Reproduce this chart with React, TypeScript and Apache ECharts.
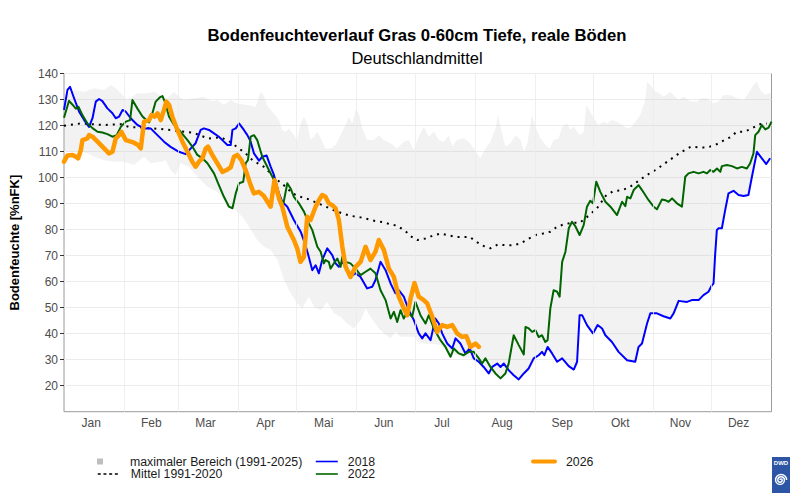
import React, { useEffect, useRef } from "react";
import * as echarts from "echarts";

const monthNames = ["Jan", "Feb", "Mar", "Apr", "Mai", "Jun", "Jul", "Aug", "Sep", "Okt", "Nov", "Dez"];
const monthLabelDays = [14, 45, 73, 104, 134, 165, 195, 226, 257, 287, 318, 348];
const monthStartDays = [31, 59, 90, 120, 151, 181, 212, 243, 273, 304, 334];
const yTickValues = [20, 30, 40, 50, 60, 70, 80, 90, 100, 110, 120, 130, 140];

const bandUpper: number[][] = [[0,131.7],[5.2,133.7],[10.4,133],[15.5,134.3],[20.7,133.7],[24.1,135.6],[26.7,134.3],[30.2,131.7],[32.7,129.8],[37.9,132.4],[43,132.4],[46.4,133],[53.4,130.5],[56.8,133],[59.3,131.1],[61.9,129.8],[67.1,130.5],[72.2,131.1],[76.5,129.2],[79.1,129.8],[82.5,127.9],[86,129.8],[89.4,128.5],[94.6,127.9],[98.9,127.2],[101.4,133],[103.1,131.5],[104.9,127.5],[106.6,126],[108.3,124.5],[110.9,122.1],[112.6,118.3],[114.3,117.6],[116,118.9],[118.6,116.3],[120.3,114.4],[122,120.8],[123.8,123.4],[125.5,120.8],[127.2,114.4],[128.9,115.7],[130.7,117.6],[132.4,115.1],[134.9,111.2],[137.5,111.2],[140.1,112.5],[145.3,120.2],[146.9,123.4],[148.7,120.8],[150.4,126],[152.1,124.7],[153.9,118.9],[156.4,114.4],[159.8,114.4],[162.4,116.3],[165,114.4],[168.5,113.2],[171.9,111.2],[175.3,113.8],[177.9,114.4],[180.5,110.6],[183,115.7],[185.6,119.5],[188.2,115.7],[190.8,117.6],[193.4,114.4],[195.9,113.8],[198.5,116.3],[200.3,111.9],[202.8,114.4],[206.2,115.1],[208.8,113.8],[211.4,111.2],[214.8,107.4],[217.4,111.2],[220,113.8],[222.6,118.9],[223.8,124],[225.2,119.5],[227.7,111.9],[230.3,113.2],[232.9,116.3],[235.6,114.4],[237.3,109.9],[239,113],[241.5,124],[243.2,119.5],[245.8,115.1],[248.3,112.5],[250.6,111.2],[252.6,114.4],[255.2,115.1],[257,119.5],[259.5,120.8],[261.2,118.3],[263,119.5],[264.7,117.6],[266.4,116.3],[268.1,117.6],[269.5,127.9],[271.5,125.3],[273.3,122.8],[275.8,120.2],[278.4,121.5],[280.2,120.8],[282.7,122.1],[285.3,121.5],[287.9,120.2],[290.5,118.9],[293,119.5],[294.7,121.5],[297.3,124],[299.9,129.8],[300.8,136.8],[302.5,135.6],[304.2,133.7],[306.8,132.4],[309.3,131.1],[312.8,133],[314.5,131.7],[317.1,129.8],[319.6,131.1],[323.1,129.2],[326.5,129.2],[329.1,130.5],[331.7,130.5],[335.1,128.5],[337.7,129.2],[340.3,131.7],[343.7,131.7],[347.2,130.5],[350.6,129.8],[353.1,132.4],[355.7,135.6],[357.5,136.8],[359.2,133.7],[361.8,131.7],[363.5,132.4],[365,132.4]];

const bandLower: number[][] = [[0,110],[8.7,109.9],[12.1,109.3],[15.5,108],[20.7,106.7],[25.8,106.1],[31,106.1],[36.1,104.8],[41.3,108],[44.7,105.5],[49.9,106.1],[52.5,106.7],[55,102.9],[57.6,101],[60.2,105.5],[64.5,104.2],[68.8,100.3],[74,96.5],[79.1,94.5],[84.3,90.1],[88.6,87.5],[92,84.9],[95.4,81.1],[99.7,76],[103.1,73.4],[106.6,72.2],[110.1,68.3],[113.5,60.6],[116.9,55.5],[120.4,51.6],[122.9,49.7],[126.4,54.2],[128.9,50.3],[132.4,49],[135.8,52.2],[139.2,47.8],[142.7,46.5],[146.1,43.9],[149.5,42],[153,45.2],[155.6,49.7],[158.1,46.5],[162.4,42],[165,40.1],[168.5,38.2],[171,40.7],[173.6,38.8],[180.5,38.8],[183,36.8],[185.6,36.2],[189.1,36],[191.6,36],[194.2,35.5],[196.8,34],[199.4,31],[201.1,32],[203.7,31.5],[206.2,30.5],[209.3,30.5],[211.4,29.5],[214,28.5],[216.5,26.5],[219.1,24.5],[222.6,24.2],[225.2,22.5],[227.7,24],[229.4,25],[232,23.5],[234.6,22.2],[237.2,24.5],[239.7,25.5],[242.3,29],[244.9,31],[246.6,32.5],[248.3,31.5],[249.5,34],[251.8,32.2],[254.4,29],[257,30.3],[260.4,27.3],[263,26],[264.7,29],[266,47.1],[267.3,47.1],[269.8,43.3],[272.9,40.1],[275.3,43.3],[277.6,42],[279.3,39.4],[282.7,36.8],[286.1,33],[290.5,29.8],[294.7,29.2],[296.4,34.9],[298.2,36.2],[300.8,43.9],[302.5,47.8],[305.9,47.8],[309.3,46.7],[312.8,45.8],[314.5,47.8],[317.1,52.6],[321.4,52.2],[323.9,52.9],[327.4,52.9],[329.9,54.8],[332.5,56.1],[334.3,58.7],[335.1,59.3],[335.9,70],[336.8,79.8],[337.7,80.5],[339.4,80.5],[341.1,87.5],[342.8,93.9],[345.4,94.9],[348,93.3],[350.6,92.9],[353.1,93.3],[354.9,100.3],[357.5,109.9],[360,107.4],[362.3,105.2],[365,107.4]];

const mean1991_2020: number[][] = [[0,119.9],[8.7,120.8],[20.5,120.2],[29.3,120.5],[33.4,119.5],[45.6,118.9],[49.6,118.7],[57.6,118],[66.8,117.2],[74.5,115],[80.8,115.5],[86,113.6],[89.7,111.5],[93.4,109.5],[97.2,106.7],[103,104.2],[110.2,99],[114.3,96.5],[117.8,93.9],[122,92.6],[126.3,91.6],[133,89.5],[139,87.5],[144.4,86],[148.7,85.2],[153,84.7],[157.3,83.9],[160.7,83.3],[165,82.8],[168.5,82],[171.9,81.5],[176.2,79.4],[178.8,77.5],[182.2,76],[186.5,76.6],[190,77.6],[194.2,78.5],[197.7,77.9],[202,77.2],[205.4,77.2],[209.3,77.2],[212.8,75.3],[216.5,73.7],[220,72.8],[223.8,74.3],[227.7,74],[232,74],[235.5,74.7],[239.2,76.3],[243.2,77.9],[247.2,78.5],[250.9,79.2],[254.4,81.1],[258.3,82.1],[262,82.6],[266,82.6],[270.6,85.3],[275,88.2],[279.8,93.3],[283.6,94.8],[287.9,95.2],[291.3,96.1],[294.7,97.8],[298.2,99.7],[302.1,101.6],[305.6,103.1],[309.3,105.1],[312.4,106.7],[316.2,108.7],[319.6,110.3],[323.5,111.9],[327.9,111.6],[331.7,111.5],[336,112.5],[339.7,114],[343.7,115.5],[347.1,117.6],[350.9,117.6],[354.9,118.9],[358.7,120.5],[362.6,120.8]];

const year2018: number[][] = [[0,126],[1.8,133.7],[3.1,134.9],[5.2,130.5],[7.8,125.3],[10.4,122.1],[12.9,119.5],[14.7,122.8],[16.4,129.2],[18.1,130.2],[19.8,129.4],[22.4,126.6],[25,124.7],[26.7,122.8],[28.4,123.4],[30.2,126],[31.9,125.3],[34.4,122.8],[37.9,120.2],[41.3,118.9],[44.7,118.9],[48.2,116.3],[51.6,113.8],[55,111.8],[59.3,109.9],[62.8,109],[65.4,111.2],[67.9,113.2],[70.5,118.3],[72.2,118.9],[74.8,118.3],[77.4,117],[79.9,115.7],[82.5,113.8],[84.3,112.5],[86,112.5],[86.9,118.3],[88.6,118.9],[90.3,120.8],[92.8,118.3],[94.6,116.3],[96.3,113.8],[98,109.3],[100.6,106.5],[102.3,108],[104.5,108.5],[106.6,104.2],[108.3,101],[110.9,93.9],[112.6,90.7],[115.2,88.8],[118.6,83.7],[122.1,79.2],[124.6,74],[126.3,69.5],[128.1,64.4],[129.8,66.3],[131.5,63.2],[133.2,68.3],[135.8,72.8],[138.4,70.2],[140.1,67],[141.8,65.7],[143.6,67.6],[146.1,64.4],[147.8,61.8],[150.4,63.2],[153,61.8],[156.4,57.4],[159,58],[160.7,60.6],[163.3,67.6],[165.9,64.4],[168.5,59.3],[171,55.5],[172.7,56.7],[175.3,54.2],[177.9,49],[180.5,45.2],[183,40.1],[184.8,38.2],[186.5,40.1],[189.1,37.5],[191.6,45.8],[193.4,43.9],[195.1,40.1],[197.7,36.2],[200.3,34.3],[202,38.2],[204.5,36.2],[207.1,32.4],[209.3,34.3],[211.4,30.5],[214,29.2],[216.5,27.2],[219.1,24.7],[220.9,27.2],[223.5,28.5],[225.2,27.2],[226.9,28.5],[229.4,26],[232,24],[234.6,22.4],[237.2,24.7],[239.7,26.6],[242.3,30.5],[244.9,31.7],[246.6,33],[247.8,31.7],[249.5,34.9],[251.8,32.4],[254.4,29.2],[257,30.5],[260.4,27.5],[263,26.2],[264.7,29.2],[266,47.1],[267.3,47.1],[269.8,43.3],[272.9,40.1],[275.3,43.3],[277.6,42],[279.3,39.4],[282.7,36.8],[286.1,33],[290.5,29.8],[294.7,29.2],[296.4,34.9],[298.2,36.2],[300.8,43.9],[302.5,47.8],[305.9,47.8],[309.3,46.7],[312.8,45.8],[314.5,47.8],[317.1,52.6],[321.4,52.2],[323.9,52.9],[327.4,52.9],[329.9,54.8],[332.5,56.1],[334.3,58.7],[335.1,59.3],[335.9,70],[336.8,79.8],[337.7,80.5],[339.4,80.5],[341.1,87.5],[342.8,93.9],[345.4,94.9],[348,93.3],[350.6,92.9],[353.1,93.3],[354.9,100.3],[357.5,109.9],[360,107.4],[362.3,105.2],[364.3,107.4]];

const year2022: number[][] = [[0,123],[2.6,129.5],[4.4,128],[6.1,126.5],[7.5,127.2],[9.5,124],[12.1,120.8],[14.7,119],[17.3,117.6],[19.8,117.3],[22.4,116.7],[25,115.7],[27.2,116.3],[29.3,119.5],[31.9,121.5],[34.1,122.1],[35.3,129.8],[37.9,126.5],[40.5,123.5],[42.2,122.3],[43.9,121.2],[45.6,124.7],[47.3,129.2],[49.4,130.8],[50.8,131.3],[52,129.2],[54.2,123.4],[56.8,120.2],[60.2,117.6],[63.7,114.4],[66.2,111.9],[68.8,108.7],[71.4,107.4],[74,105.5],[77.4,101.6],[79.9,97.1],[82.5,92.6],[85.1,88.8],[86.9,88.2],[88.6,93.9],[90.3,97.8],[92.5,98.4],[93.7,105.5],[94.9,106.7],[96.3,115.7],[98,116.3],[99.7,114.4],[102.3,108],[105.7,102.9],[109.2,97.8],[111.8,91.3],[113.2,90.1],[115.2,97.8],[116.9,95.8],[118.6,92.6],[121.2,90.1],[123.8,86.9],[126.3,82.4],[128.1,79.8],[130.7,73.4],[132.4,71.5],[134.1,67],[134.9,68.3],[136.6,67.6],[137.5,65],[139.2,67],[141,68.9],[142.7,65.7],[143.6,69.5],[145.3,67.6],[147.8,67],[150.4,65],[153,62.5],[155.6,63.8],[158.1,65],[160.7,63.2],[163.3,56.7],[165.9,52.9],[168.5,45.8],[170.2,48.4],[171.9,44.5],[173.6,49],[175.3,45.8],[177.1,48.4],[179.6,46.5],[181.3,52.2],[183.9,47.1],[186.5,43.9],[188.2,47.1],[190.8,42],[194.2,37.5],[196.8,34.9],[199.4,31.1],[201.1,34.3],[203.7,32.4],[206.2,31.7],[208.8,33],[211.4,33],[214,30.5],[215.7,28.5],[217.4,30.5],[220,27.2],[222.6,24.7],[225.2,22.8],[227.7,24.7],[229.4,28.5],[232,39.4],[234.6,35.6],[237.2,32],[238.1,42.6],[239.8,42],[241.5,40.7],[243.2,41.3],[244.9,38.7],[246.6,39.4],[248.3,36.8],[249.5,37.5],[250.9,49.7],[252.6,56.7],[254.4,56.1],[255.7,54.2],[257,67.6],[258.7,71.5],[260.4,80.5],[262.1,83],[263.8,81.3],[266,77.9],[268.1,81.7],[269.8,88.8],[271.5,91.1],[272.9,90.1],[274.6,98.4],[276.7,94.5],[279.3,90.7],[281.9,88.8],[285.3,85.6],[287.9,90.7],[289.6,89],[290.5,92.6],[292.2,92],[293.9,95.2],[296.4,97.1],[298.2,95.2],[301.6,91.3],[304.2,88.8],[305.9,87.8],[308.5,91.6],[310.2,91.3],[311.9,90.7],[313.7,92],[316.2,90.1],[318.8,88.8],[320.5,100.3],[322.2,101.6],[324.8,102.2],[327.4,101.6],[329.9,102.2],[331.7,101.6],[333.4,102.9],[335.1,102.2],[336.9,103.5],[338.6,102.2],[339.4,104.4],[342,104.8],[344.6,104.4],[347.2,103.5],[349.7,104.1],[352.3,103.5],[354,105.5],[355.7,109.3],[356.6,116.3],[358.3,117.6],[360,120.2],[361.8,118.5],[363.5,119.2],[365,121.5]];

const year2026: number[][] = [[0,106.1],[1.8,108.5],[4.4,108.7],[6.1,108],[7.3,107.4],[8.7,110.6],[9.5,114.4],[12.1,115.1],[12.9,116.3],[14.7,115.7],[17.3,113.8],[20.7,111.2],[23.2,109.3],[25,109.9],[26.7,115.1],[28.4,116.3],[29.6,117.6],[31.9,114.4],[34.1,113.9],[36.1,113.4],[38.2,112.5],[39.6,111.2],[41.3,121.5],[43.9,122.1],[45.1,124],[46.8,123.4],[48.2,124.7],[49.9,122.1],[51.6,126],[52.8,129.2],[54.2,127.9],[55.9,123.4],[58.5,118.3],[61.1,113.8],[63.7,109.9],[66.2,106.1],[67.9,104.2],[69.6,106.1],[71.4,107.4],[73.1,111.2],[74.3,111.9],[76.5,108.7],[79.1,105.5],[81.7,102.2],[83.9,102.9],[86,103.9],[87.7,108],[89.4,108.7],[91.5,106.7],[93.7,102.9],[96.3,97.1],[98,93.9],[100.6,94.5],[103,93],[106.6,88.8],[108.6,99],[110.9,92],[112.6,88.8],[115.2,81.1],[118.6,76],[120.3,72.8],[122,67.6],[123.8,69.5],[124.7,77.9],[125.5,84.9],[127.2,83.7],[129.8,88.8],[131.5,91.3],[133.2,93.3],[134.9,92.6],[136.6,90.1],[138.4,89.4],[140.1,88.2],[141.8,83.7],[143.6,73.4],[145.3,65.7],[147.8,61.8],[150.4,65.7],[153,67.6],[155.6,73.4],[158.1,68.3],[160.7,71.5],[162.4,76],[165,72.2],[167.6,65],[170.2,61.8],[172.7,54.2],[175.3,49.7],[177.1,47.1],[178.8,53.5],[180.8,59.5],[183,54.2],[185.6,52.9],[187.4,51.6],[190,46.5],[192.5,40.7],[195.1,43.3],[197.7,42.6],[200.3,43.3],[202.8,40.1],[205.4,38.8],[207.6,39],[209.7,34.9],[212.3,36.2],[214,34.9]];

const FONT = "'Liberation Sans', Arial, sans-serif";
const BAND_NAME = "maximaler Bereich (1991-2025)";
const MEAN_NAME = "Mittel 1991-2020";

let shapeRegistered = false;
function registerLogo() {
  if (shapeRegistered) return;
  echarts.graphic.registerShape(
    "dwdSpiral",
    echarts.graphic.extendPath(
      "M0,0 A1,1 0 0 1 2,0 A2,2 0 0 1 -2,0 A3,3 0 0 1 4,0 A4,4 0 0 1 -4,0 A5,5 0 0 1 6,0",
      {}
    ) as any
  );
  shapeRegistered = true;
}

export default function App() {
  const ref = useRef<HTMLDivElement>(null);
  useEffect(() => {
    if (!ref.current) return;
    registerLogo();
    const chart = echarts.init(ref.current, undefined, { renderer: "svg" });
    const legendText = { fontSize: 12.3, color: "#1a1a1a", fontFamily: FONT };
    const legendBase = {
      orient: "horizontal",
      itemWidth: 22,
      itemHeight: 14,
      padding: 0,
      itemGap: 0,
      selectedMode: false,
      itemStyle: { opacity: 0 },
    };
    const option: any = {
      animation: false,
      textStyle: { fontFamily: FONT },
      grid: {
        left: 63.2,
        right: 28.5,
        top: 73.5,
        bottom: 88.3,
        show: true,
        borderColor: "#9a9a9a",
        borderWidth: 1,
        backgroundColor: "transparent",
      },
      xAxis: {
        type: "value",
        min: 0,
        max: 365,
        axisLine: { show: false },
        axisTick: { show: false },
        splitLine: { show: false },
        axisLabel: {
          customValues: monthLabelDays,
          formatter: (v: number) => {
            const i = monthLabelDays.indexOf(v);
            return i >= 0 ? monthNames[i] : "";
          },
          fontSize: 12,
          color: "#4d4d4d",
          margin: 5,
          fontFamily: FONT,
        },
      },
      yAxis: {
        type: "value",
        min: 10,
        max: 140,
        interval: 10,
        name: "Bodenfeuchte [%nFK]",
        nameLocation: "middle",
        nameGap: 43,
        nameTextStyle: { fontSize: 13, fontWeight: "bold", color: "#000", fontFamily: FONT },
        axisLine: { show: false },
        axisTick: { show: true, length: 4, customValues: yTickValues, lineStyle: { color: "#333" } },
        axisLabel: {
          customValues: yTickValues,
          fontSize: 12,
          color: "#4d4d4d",
          margin: 6,
          fontFamily: FONT,
        },
        splitLine: { show: true, lineStyle: { color: "#ebebeb", width: 1.2 } },
      },
      legend: [
        {
          ...legendBase,
          left: 97,
          top: 455.5,
          itemWidth: 6,
          itemHeight: 6,
          itemStyle: {},
          data: [{ name: BAND_NAME, icon: "rect", itemStyle: { color: "#bebebe" } }],
          textStyle: { ...legendText, padding: [0, 0, 0, 22] },
        },
        {
          ...legendBase,
          left: 97,
          top: 468,
          itemWidth: 21,
          data: [{ name: MEAN_NAME, lineStyle: { type: [3, 2.7], width: 1.5 } }],
          textStyle: { ...legendText, padding: [0, 0, 0, 7] },
        },
        {
          ...legendBase,
          left: 315,
          top: 455.5,
          data: [{ name: "2018", lineStyle: { width: 1.6 } }],
          textStyle: { ...legendText, padding: [0, 0, 0, 5] },
        },
        {
          ...legendBase,
          left: 315,
          top: 468,
          data: [{ name: "2022", lineStyle: { width: 1.6 } }],
          textStyle: { ...legendText, padding: [0, 0, 0, 5] },
        },
        {
          ...legendBase,
          left: 531,
          top: 455.5,
          data: [{ name: "2026", lineStyle: { width: 4 } }],
          textStyle: { ...legendText, padding: [0, 0, 0, 6] },
        },
      ],
      graphic: [
        {
          type: "text",
          x: 417,
          y: 35,
          style: {
            text: "Bodenfeuchteverlauf Gras 0-60cm Tiefe, reale Böden",
            fill: "#000",
            font: `bold 16.7px ${FONT}`,
            align: "center",
            verticalAlign: "middle",
            textAlign: "center",
            textVerticalAlign: "middle",
          },
        },
        {
          type: "text",
          x: 417,
          y: 58,
          style: {
            text: "Deutschlandmittel",
            fill: "#000",
            font: `16.5px ${FONT}`,
            align: "center",
            verticalAlign: "middle",
            textAlign: "center",
            textVerticalAlign: "middle",
          },
        },
        {
          type: "rect",
          shape: { x: 772, y: 457, width: 18, height: 36 },
          style: { fill: "#2c55a5" },
        },
        {
          type: "text",
          x: 781,
          y: 463,
          style: {
            text: "DWD",
            fill: "#fff",
            font: `bold 6px ${FONT}`,
            align: "center",
            verticalAlign: "middle",
            textAlign: "center",
            textVerticalAlign: "middle",
          },
        },
        {
          type: "dwdSpiral",
          x: 780,
          y: 480,
          scaleX: 1.1,
          scaleY: 1.1,
          style: { stroke: "#fff", fill: null, lineWidth: 1.3 },
        },
      ],
      series: [
        {
          type: "line",
          data: [],
          z: 0,
          silent: true,
          markLine: {
            silent: true,
            symbol: ["none", "none"],
            label: { show: false },
            lineStyle: { color: "#ebebeb", width: 0.8, type: "solid" },
            emphasis: { disabled: true },
            data: monthStartDays.map((d) => ({ xAxis: d })),
          },
        },
        {
          name: BAND_NAME,
          type: "custom",
          z: 1,
          silent: true,
          itemStyle: { color: "#bebebe" },
          data: [[0, 0]],
          renderItem: (_params: any, api: any) => {
            const pts: number[][] = [];
            bandUpper.forEach((p) => pts.push(api.coord(p)));
            for (let i = bandLower.length - 1; i >= 0; i--) pts.push(api.coord(bandLower[i]));
            return {
              type: "polygon",
              shape: { points: pts },
              style: { fill: "rgba(190,190,190,0.2)", stroke: "none" },
            };
          },
        },
        {
          name: MEAN_NAME,
          type: "line",
          z: 2,
          symbol: "none",
          data: mean1991_2020,
          lineStyle: { color: "#000", width: 2, type: [2, 5], cap: "butt" },
          itemStyle: { color: "#000" },
        },
        {
          name: "2018",
          type: "line",
          z: 3,
          symbol: "none",
          data: year2018,
          lineStyle: { color: "#0000ff", width: 2, join: "round" },
          itemStyle: { color: "#0000ff" },
        },
        {
          name: "2022",
          type: "line",
          z: 4,
          symbol: "none",
          data: year2022,
          lineStyle: { color: "#006400", width: 2, join: "round" },
          itemStyle: { color: "#006400" },
        },
        {
          name: "2026",
          type: "line",
          z: 5,
          symbol: "none",
          data: year2026,
          lineStyle: { color: "#ff9900", width: 4.5, join: "round", cap: "round" },
          itemStyle: { color: "#ff9900" },
        },
      ],
    };
    chart.setOption(option);
    return () => chart.dispose();
  }, []);
  return (
    <div
      ref={ref}
      style={{ position: "absolute", left: 0, top: 0, width: 800, height: 500, background: "#fff" }}
    />
  );
}
